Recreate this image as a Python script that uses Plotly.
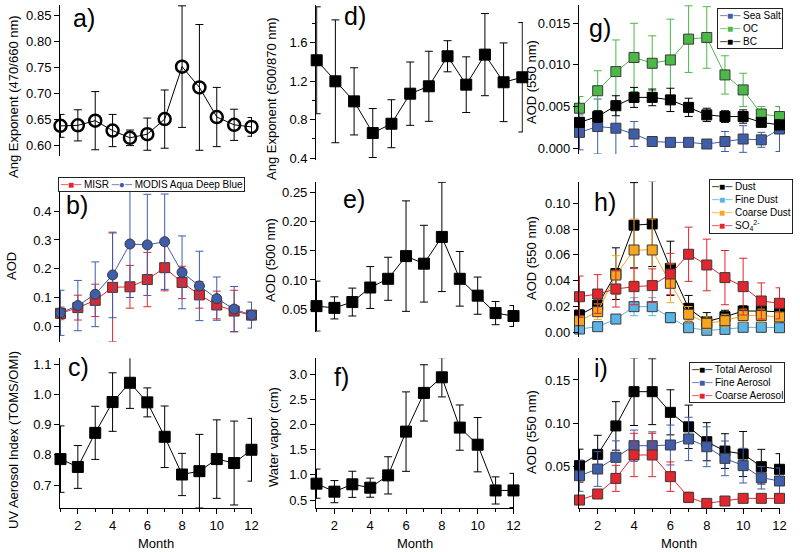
import plotly.graph_objects as go

months = list(range(1, 13))

# a) Angstrom exponent 470/660
ang_470_660 = [0.638, 0.639, 0.648, 0.629, 0.615, 0.622, 0.651, 0.752, 0.712, 0.655, 0.640, 0.636]
ang_470_660_err = [0.022, 0.030, 0.056, 0.031, 0.015, 0.031, 0.056, 0.117, 0.121, 0.057, 0.030, 0.018]

# b) AOD MISR / MODIS
misr_aod = [0.046, 0.066, 0.091, 0.136, 0.138, 0.163, 0.204, 0.153, 0.110, 0.075, 0.054, 0.040]
misr_err = [0.022, 0.043, 0.056, 0.188, 0.074, 0.094, 0.080, 0.056, 0.046, 0.048, 0.072, 0.010]
modis_aod = [0.048, 0.073, 0.112, 0.179, 0.286, 0.283, 0.294, 0.188, 0.141, 0.097, 0.061, 0.040]
modis_err = [0.078, 0.087, 0.112, 0.148, 0.185, 0.175, 0.165, 0.126, 0.120, 0.075, 0.078, 0.045]

# c) UV aerosol index
uvai = [0.786, 0.760, 0.873, 0.975, 1.039, 0.974, 0.860, 0.735, 0.746, 0.786, 0.773, 0.817]
uvai_err = [0.110, 0.071, 0.088, 0.097, 0.085, 0.048, 0.102, 0.070, 0.122, 0.130, 0.139, 0.104]

# d) Angstrom exponent 500/870
ang_500_870 = [1.419, 1.200, 0.991, 0.661, 0.758, 1.071, 1.148, 1.461, 1.165, 1.478, 1.190, 1.242]
ang_500_870_err = [0.557, 0.640, 0.350, 0.255, 0.250, 0.330, 0.365, 0.162, 0.290, 0.428, 0.410, 0.570]

# e) AOD 500 nm
aod500 = [0.055, 0.052, 0.062, 0.087, 0.102, 0.141, 0.128, 0.174, 0.102, 0.073, 0.043, 0.038]
aod500_err = [0.043, 0.019, 0.024, 0.036, 0.037, 0.095, 0.066, 0.094, 0.047, 0.032, 0.020, 0.018]

# f) Water vapor
water_vapor = [0.825, 0.666, 0.812, 0.745, 0.990, 1.860, 2.630, 2.940, 1.940, 1.600, 0.690, 0.690]
water_vapor_err = [0.29, 0.22, 0.26, 0.19, 0.37, 0.79, 0.56, 0.39, 0.45, 0.54, 0.27, 0.34]

# g) Sea salt, OC, BC
sea_salt = [0.0019, 0.0026, 0.0024, 0.0017, 0.0008, 0.0007, 0.0007, 0.0005, 0.0008, 0.0011, 0.0010, 0.0023]
sea_salt_err = [0.0021, 0.0033, 0.0033, 0.0015, 0.0003, 0.0003, 0.0003, 0.0003, 0.0012, 0.0016, 0.0009, 0.0027]
oc = [0.0048, 0.0069, 0.0092, 0.0109, 0.0102, 0.0106, 0.0131, 0.0133, 0.0088, 0.0070, 0.0041, 0.0038]
oc_err = [0.0014, 0.0024, 0.0038, 0.0041, 0.0033, 0.0049, 0.0040, 0.0037, 0.0023, 0.0020, 0.0009, 0.0012]
bc = [0.0031, 0.0038, 0.0051, 0.0061, 0.0061, 0.0058, 0.0049, 0.0040, 0.0038, 0.0038, 0.0031, 0.0028]
bc_err = [0.0006, 0.0007, 0.0012, 0.0012, 0.0010, 0.0014, 0.0011, 0.0008, 0.0007, 0.0008, 0.0005, 0.0006]

# h) Dust, fine dust, coarse dust, sulfate
dust = [0.0134, 0.0210, 0.0455, 0.0830, 0.0840, 0.0496, 0.0186, 0.0083, 0.0121, 0.0165, 0.0165, 0.0160]
dust_err = [0.004, 0.005, 0.020, 0.033, 0.033, 0.021, 0.010, 0.007, 0.005, 0.004, 0.004, 0.003]
fine_dust = [0.0026, 0.0044, 0.0103, 0.0199, 0.0199, 0.0114, 0.0036, 0.0016, 0.0023, 0.0039, 0.0039, 0.0036]
fine_dust_err = [0.002, 0.002, 0.002, 0.007, 0.007, 0.004, 0.002, 0.002, 0.002, 0.002, 0.002, 0.002]
coarse_dust = [0.0090, 0.0160, 0.0444, 0.0638, 0.0638, 0.0380, 0.0140, 0.0070, 0.0090, 0.0130, 0.0130, 0.0120]
coarse_dust_err = [0.004, 0.006, 0.015, 0.024, 0.024, 0.015, 0.006, 0.005, 0.005, 0.005, 0.005, 0.004]
so4 = [0.0276, 0.0297, 0.0336, 0.0354, 0.0362, 0.0452, 0.0605, 0.0522, 0.0424, 0.0354, 0.0243, 0.0225]
so4_err = [0.016, 0.015, 0.014, 0.014, 0.013, 0.016, 0.021, 0.020, 0.021, 0.022, 0.014, 0.012]

# i) Total / fine / coarse aerosol
total_aer = [0.0512, 0.0642, 0.0970, 0.1365, 0.1365, 0.1127, 0.0960, 0.0788, 0.0680, 0.0646, 0.0500, 0.0470]
total_err = [0.019, 0.022, 0.028, 0.039, 0.038, 0.026, 0.025, 0.022, 0.020, 0.026, 0.020, 0.018]
fine_aer = [0.0396, 0.0473, 0.0608, 0.0742, 0.0742, 0.0750, 0.0820, 0.0730, 0.0596, 0.0512, 0.0373, 0.0335]
fine_err = [0.018, 0.020, 0.019, 0.018, 0.016, 0.023, 0.025, 0.023, 0.020, 0.020, 0.013, 0.015]
coarse_aer = [0.0115, 0.0185, 0.0365, 0.0635, 0.0635, 0.0385, 0.0146, 0.0077, 0.0104, 0.0135, 0.0135, 0.0135]
coarse_err = [0.003, 0.005, 0.015, 0.025, 0.025, 0.017, 0.006, 0.003, 0.003, 0.004, 0.004, 0.004]

month_ticks = [2, 4, 6, 8, 10, 12]

W, H = 800, 552
FONT = "Liberation Sans, Arial, Helvetica, sans-serif"
BLACK = "#000000"
RED = "#e3262d"
BLUE = "#3e5dab"
GREEN = "#4cb848"
ORANGE = "#f6a51e"
LBLUE = "#5ab3e6"
EDGE = "#3a3a3a"


def fx(p):
    return p / W


def fy(p):
    return 1 - p / H


# panel geometry: (month1 px, month12 px, top px, bottom px, y range, dtick, fmt, bottom axis)
panels = {
    "a": (60.5, 251.5, 5, 156, [0.580, 0.8706], 0.05, ".2f", False),
    "b": (60.5, 251.5, 191.7, 341.7, [-0.052, 0.467], 0.1, ".1f", False),
    "c": (60.5, 251.5, 358.3, 508.3, [0.623, 1.12], 0.1, ".1f", True),
    "d": (316.7, 522.3, 5, 160, [0.38, 1.995], 0.4, ".1f", False),
    "e": (316.5, 513.5, 181.7, 331.7, [0.011, 0.269], 0.05, ".2f", False),
    "f": (316.5, 513.5, 358.3, 508.3, [0.335, 3.318], 0.5, ".1f", True),
    "g": (579.5, 779.5, 5, 154, [-0.0007, 0.0172], 0.005, ".3f", False),
    "h": (579.5, 779.5, 181.7, 337, [-0.0036, 0.1167], 0.02, ".2f", False),
    "i": (579.5, 779.5, 358.3, 508.3, [0.002, 0.175], 0.05, ".2f", True),
}
order = ["a", "b", "c", "d", "e", "f", "g", "h", "i"]
XR = [0.97, 12.03]

fig = go.Figure()
layout = dict(
    width=W, height=H, margin=dict(l=0, r=0, t=0, b=0, autoexpand=False),
    paper_bgcolor="white", plot_bgcolor="white",
    font=dict(family=FONT, size=12, color="black"),
    showlegend=False,
)

axis_ids = {}
for k, key in enumerate(order, start=1):
    m1, m12, top, bot, yr, dt, fmt, bottom = panels[key]
    s = (m12 - m1) / 11
    left = m1 + (XR[0] - 1) * s
    right = m12 + (XR[1] - 12) * s
    xa = "xaxis" if k == 1 else f"xaxis{k}"
    ya = "yaxis" if k == 1 else f"yaxis{k}"
    xid = "x" if k == 1 else f"x{k}"
    yid = "y" if k == 1 else f"y{k}"
    axis_ids[key] = (xid, yid)
    xdict = dict(domain=[fx(left), fx(right)], range=XR, anchor=yid,
                 showgrid=False, zeroline=False)
    if bottom:
        xdict.update(showline=True, linecolor="black", linewidth=1,
                     ticks="outside", ticklen=5, tickcolor="black",
                     tickvals=month_ticks, ticklabelstandoff=0,
                     tickfont=dict(size=13),
                     minor=dict(tickvals=[1, 3, 5, 7, 9, 11], ticks="outside",
                                ticklen=3, tickcolor="black"))
    else:
        xdict.update(visible=False)
    ydict = dict(domain=[fy(bot), fy(top)], range=yr, anchor=xid,
                 showgrid=False, zeroline=False, showline=True,
                 linecolor="black", linewidth=1, ticks="outside", ticklen=5,
                 tickcolor="black", dtick=dt, tick0=0, tickformat=fmt,
                 tickfont=dict(size=13))
    if key == "d":
        ydict["minor"] = dict(dtick=0.2, tick0=0, ticks="outside", ticklen=3,
                              tickcolor="black")
    layout[xa] = xdict
    layout[ya] = ydict


def add(key, y, err, name, color, symbol="square", size=11, fill=None,
        edge=EDGE, lw=1, mlw=1):
    xid, yid = axis_ids[key]
    fig.add_trace(go.Scatter(
        x=months, y=y, xaxis=xid, yaxis=yid, mode="lines+markers", name=name,
        line=dict(color=color, width=lw),
        marker=dict(symbol=symbol, size=size, color=fill if fill else color,
                    line=dict(color=edge, width=mlw)),
        error_y=dict(type="data", array=err, visible=True, color=color,
                     thickness=1, width=4),
        cliponaxis=False,
    ))


add("a", ang_470_660, ang_470_660_err, "Ang 470/660", BLACK, symbol="circle-open",
    size=12, edge=BLACK, mlw=2.5)
add("b", misr_aod, misr_err, "MISR", RED, size=10)
add("b", modis_aod, modis_err, "MODIS Aqua Deep Blue", BLUE, symbol="circle", size=10)
add("c", uvai, uvai_err, "UV AI", BLACK, edge=BLACK)
add("d", ang_500_870, ang_500_870_err, "Ang 500/870", BLACK, edge=BLACK)
add("e", aod500, aod500_err, "AOD 500", BLACK, edge=BLACK)
add("f", water_vapor, water_vapor_err, "Water vapor", BLACK, edge=BLACK)
add("g", sea_salt, sea_salt_err, "Sea Salt", BLUE, size=10)
add("g", oc, oc_err, "OC", GREEN, size=10)
add("g", bc, bc_err, "BC", BLACK, size=10, edge=BLACK)
add("h", dust, dust_err, "Dust", BLACK, size=10, edge=BLACK)
add("h", fine_dust, fine_dust_err, "Fine Dust", LBLUE, size=10)
add("h", coarse_dust, coarse_dust_err, "Coarse Dust", ORANGE, size=10)
add("h", so4, so4_err, "SO<sub>4</sub><sup>2-</sup>", RED, size=10)
add("i", total_aer, total_err, "Total Aerosol", BLACK, size=10, edge=BLACK)
add("i", fine_aer, fine_err, "Fine Aerosol", BLUE, size=10)
add("i", coarse_aer, coarse_err, "Coarse Aerosol", RED, size=10)

annotations = []


def key_entry(color, name, glyph="■"):
    return f"<span style='color:{color}'>─{glyph}─</span> {name}"


legend_boxes = [
    # (entries, left px, top px, horizontal)
    ([key_entry(RED, "MISR"), key_entry(BLUE, "MODIS Aqua Deep Blue", "●")], 58, 177, True),
    ([key_entry(BLUE, "Sea Salt"), key_entry(GREEN, "OC"), key_entry(BLACK, "BC")], 717, 8, False),
    ([key_entry(BLACK, "Dust"), key_entry(LBLUE, "Fine Dust"),
      key_entry(ORANGE, "Coarse Dust"), key_entry(RED, "SO<sub>4</sub><sup>2-</sup>")], 709, 179, False),
    ([key_entry(BLACK, "Total Aerosol"), key_entry(BLUE, "Fine Aerosol"),
      key_entry(RED, "Coarse Aerosol")], 689, 362, False),
]
for entries, lx, ty, horiz in legend_boxes:
    text = " ".join(entries) if horiz else "<br>".join(entries)
    annotations.append(dict(text=text, x=fx(lx), y=fy(ty), xref="paper",
                            yref="paper", xanchor="left", yanchor="top",
                            align="left", showarrow=False, bgcolor="white",
                            bordercolor="#222222", borderwidth=1, borderpad=1,
                            font=dict(size=10, family=FONT)))

# panel labels (left px, center y px)
labels = {"a": (71, 18), "b": (64, 205), "c": (66, 367), "d": (342, 16),
          "e": (341, 199), "f": (332, 377), "g": (587, 28), "h": (592, 202),
          "i": (592, 368)}
for key, (lx, ly) in labels.items():
    annotations.append(dict(text=f"{key})", x=fx(lx), y=fy(ly), xref="paper",
                            yref="paper", xanchor="left", yanchor="middle",
                            showarrow=False, font=dict(size=25, family=FONT)))

titles = [
    ("Ang Exponent (470/660 nm)", 13, 97),
    ("AOD", 12, 266),
    ("UV Aerosol Index (TOMS/OMI)", 13, 440),
    ("Ang Exponent (500/870 nm)", 271, 99),
    ("AOD (500 nm)", 270, 260),
    ("Water vapor (cm)", 273, 437),
    ("AOD (550 nm)", 531, 82),
    ("AOD (550 nm)", 531, 258),
    ("AOD (550 nm)", 531, 432),
]
for t, tx, ty in titles:
    annotations.append(dict(text=t, x=fx(tx), y=fy(ty), xref="paper",
                            yref="paper", xanchor="center", yanchor="middle",
                            textangle=-90, showarrow=False,
                            font=dict(size=13, family=FONT)))
for mx in (156, 415, 679):
    annotations.append(dict(text="Month", x=fx(mx), y=fy(543), xref="paper",
                            yref="paper", xanchor="center", yanchor="middle",
                            showarrow=False, font=dict(size=13, family=FONT)))
layout["annotations"] = annotations

fig.update_layout(**layout)
fig.write_html(
    "out.html",
    config={"displayModeBar": False},
    post_script="document.body.style.margin='0';document.body.style.padding='0';",
)
